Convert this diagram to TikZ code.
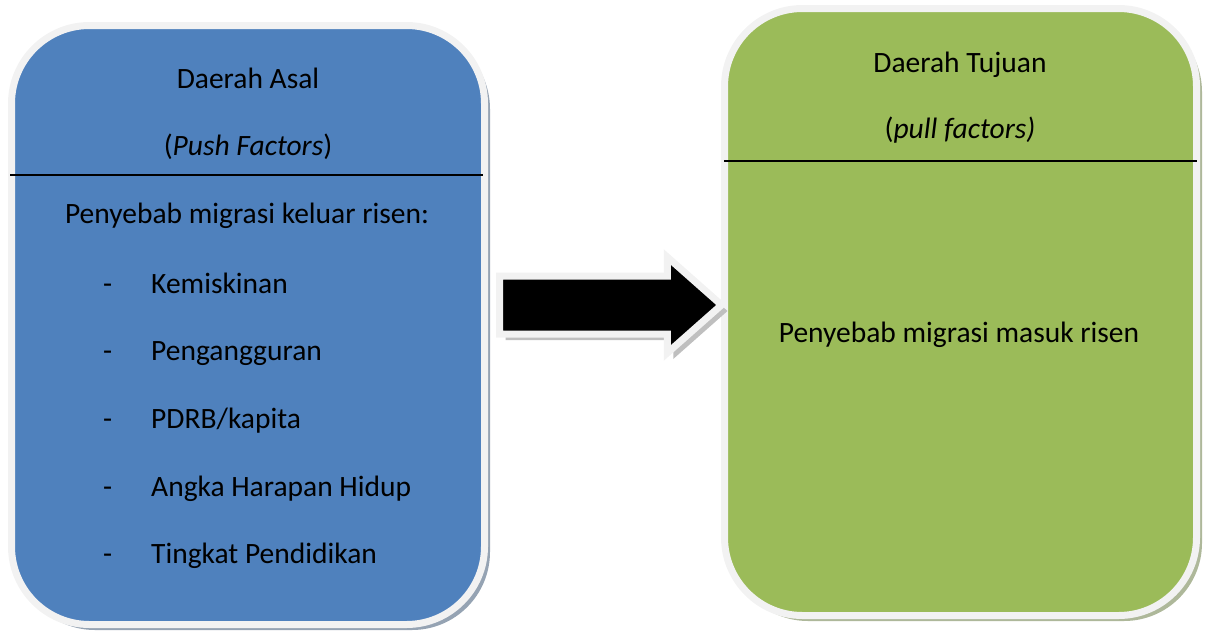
\documentclass[tikz,border=0pt]{standalone}
\usepackage{fontspec}
\setmainfont{Carlito}
\usepackage{tikz}
\usetikzlibrary{
    shapes.arrows, shadows, positioning
}
\definecolor{asalblue}{HTML}{4F81BD}
\definecolor{tujuangreen}{HTML}{9BBB59}
\definecolor{rimgray}{HTML}{F2F2F2}
\definecolor{asalshadow}{HTML}{95A3B3}
\definecolor{tujuanshadow}{HTML}{AEB89A}
\definecolor{arrowshadow}{HTML}{BFBFBF}

\begin{document}
\begin{tikzpicture}[x=1pt, y=-1pt]
    \tikzstyle{region} = [
        rectangle, rounded corners=78pt, draw=rimgray,
        line width=7pt, inner sep=0pt
    ]

    \tikzstyle{txt} = [anchor=base, inner sep=0pt, font=\fontsize{29.5}{34}\selectfont]

    \tikzstyle{item} = [txt, anchor=base west]

    \tikzstyle{divider} = [black, line width=1.5pt]

    \useasboundingbox (0,0) rectangle (1205,632);

    % Regions
    \node[region, fill=asalblue, minimum width=473pt, minimum height=599pt,
        drop shadow={shadow xshift=5.5pt, shadow yshift=-5.5pt, fill=asalshadow, opacity=1}]
        (asal) at (248,325) {};
    \node[region, fill=tujuangreen, minimum width=472pt, minimum height=607pt,
        drop shadow={shadow xshift=5.5pt, shadow yshift=-5.5pt, fill=tujuanshadow, opacity=1}]
        (tujuan) at (960.5,312) {};

    % Dividers
    \coordinate (asal_div_w) at (10,175);
    \coordinate (asal_div_e) at (483,175);
    \coordinate (tujuan_div_w) at (724,161);
    \coordinate (tujuan_div_e) at (1197,161);
    \draw[divider] (asal_div_w) -- (asal_div_e);
    \draw[divider] (tujuan_div_w) -- (tujuan_div_e);

    % Arrow
    \node[single arrow, fill=black, draw=rimgray, line width=7pt,
        inner xsep=0pt, inner ysep=25.5pt, minimum height=222pt,
        single arrow head extend=19pt, single arrow tip angle=83,
        anchor=tail,
        drop shadow={shadow xshift=6pt, shadow yshift=-6pt, fill=arrowshadow, opacity=1}]
        (flow) at (496,305) {};

    % Text column, origin
    \node[txt] (asal_title) at (248,88) {Daerah Asal};
    \node[txt] (asal_sub) at (248,155) {(\textit{Push Factors})};
    \node[txt] (asal_cause) at (247,223) {Penyebab migrasi keluar risen:};

    \node[item] (dash1) at (103,293) {-};
    \node[item] (dash2) at (103,360) {-};
    \node[item] (dash3) at (103,428) {-};
    \node[item] (dash4) at (103,496) {-};
    \node[item] (dash5) at (103,563) {-};

    \node[item] (miskin) at (151,293) {Kemiskinan};
    \node[item] (nganggur) at (151,360) {Pengangguran};
    \node[item] (pdrb) at (151,428) {PDRB/kapita};
    \node[item] (ahh) at (151,496) {Angka Harapan Hidup};
    \node[item] (didik) at (151,563) {Tingkat Pendidikan};

    % Text column, destination
    \node[txt] (tujuan_title) at (960,72) {Daerah Tujuan};
    \node[txt] (tujuan_sub) at (960,138) {(\textit{pull factors)}};
    \node[txt] (tujuan_cause) at (959,342) {Penyebab migrasi masuk risen};

\end{tikzpicture}
\end{document}
